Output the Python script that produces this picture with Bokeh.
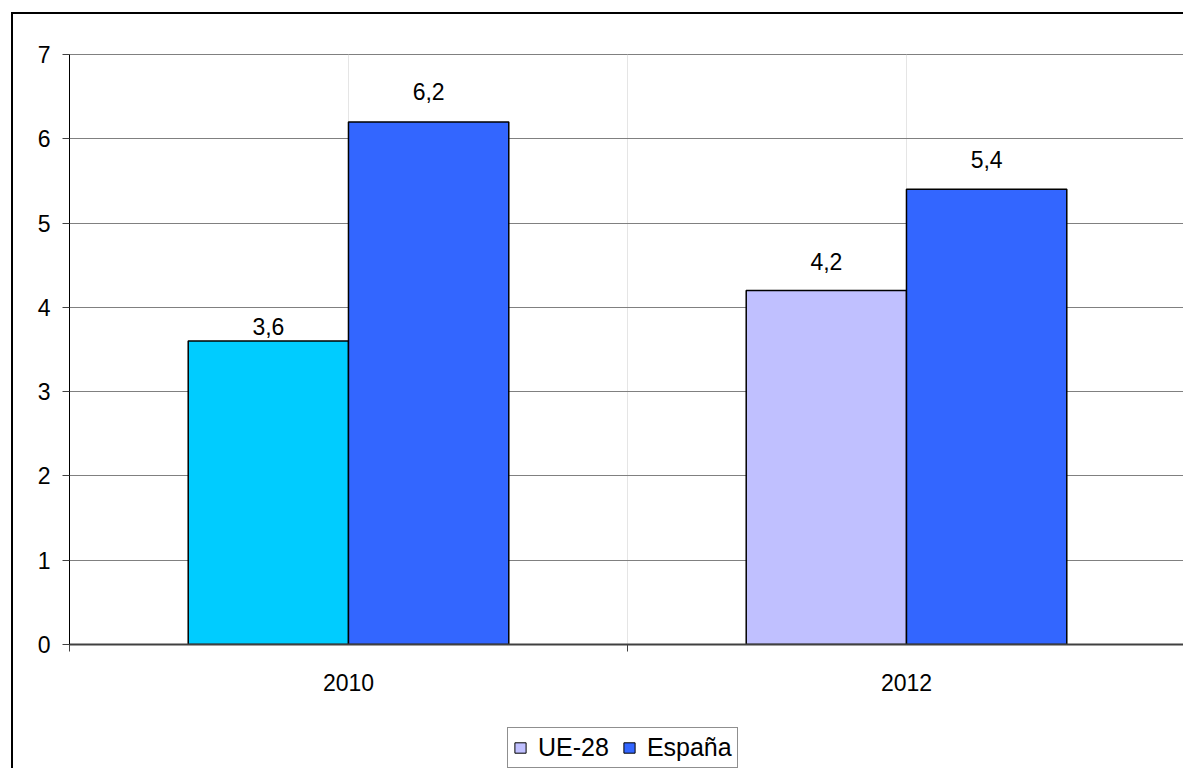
from bokeh.plotting import figure
from bokeh.layouts import column
from bokeh.models import (Range1d, LinearAxis, FixedTicker,
                          ColumnDataSource, Legend, LegendItem, Grid)
from bokeh.transform import dodge
from bokeh.core.properties import value
from bokeh.embed import file_html
from bokeh.resources import INLINE

# ---- data ----
categories = ["2010", "2012"]
ue28 = [3.6, 4.2]
espana = [6.2, 5.4]
y_ticks = [0, 1, 2, 3, 4, 5, 6, 7]

# ---- styles ----
ue28_colors = ["#00CCFF", "#C0C0FF"]
espana_color = "#3366FF"
ue28_label_gap = [-15, -29]
espana_label_gap = [-30, -30]
FONT = "Liberation Sans"
FS = "23px"
W = 1172

def fmt(v):
    return ("%.1f" % v).replace(".", ",")

# category slot centres (category i occupies [i, i+1])
centers = [i + 0.5 for i in range(len(categories))]
boundaries = list(range(len(categories) + 1))

source = ColumnDataSource(dict(
    xc=centers, ue28=ue28, espana=espana, ue_color=ue28_colors,
    ue_label=[fmt(v) for v in ue28], es_label=[fmt(v) for v in espana],
    ue_gap=ue28_label_gap, es_gap=espana_label_gap,
))

p = figure(x_range=Range1d(0, len(categories)),
           y_range=Range1d(0, 7),
           width=W, height=690,
           output_backend="svg", toolbar_location=None,
           x_axis_location=None, y_axis_location=None,
           min_border_left=56, min_border_right=0, min_border_top=40, min_border_bottom=60)
p.styles = {"border-left": "2px solid #000", "border-top": "2px solid #000"}
p.outline_line_color = "#808080"
p.outline_line_width = 1
p.background_fill_color = "white"
p.border_fill_color = "white"

# y axis
y_axis = LinearAxis(ticker=FixedTicker(ticks=y_ticks),
                    axis_line_color="#000000", axis_line_width=1,
                    major_tick_line_color="#404040", major_tick_out=7, major_tick_in=0,
                    minor_tick_line_color=None,
                    major_label_text_font=FONT, major_label_text_font_size=FS,
                    major_label_text_color="black", major_label_standoff=12)
p.add_layout(y_axis, "left")
p.add_layout(Grid(dimension=1, ticker=y_axis.ticker, grid_line_color="#808080",
                  grid_line_width=1))

# x axis: boundary ticks
tick_axis = LinearAxis(ticker=FixedTicker(ticks=boundaries),
                       axis_line_color="#404040", axis_line_width=2,
                       major_tick_line_color="#404040", major_tick_out=7, major_tick_in=0,
                       minor_tick_line_color=None,
                       major_label_text_font_size="1px", major_label_text_color=None,
                       major_label_standoff=0)
p.add_layout(tick_axis, "below")
label_axis = LinearAxis(ticker=FixedTicker(ticks=centers),
                        major_label_overrides={c: lab for c, lab in zip(centers, categories)},
                        axis_line_color=None, major_tick_line_color=None,
                        minor_tick_line_color=None,
                        major_label_text_font=FONT, major_label_text_font_size=FS,
                        major_label_text_color="black", major_label_standoff=16)
p.add_layout(label_axis, "below")

# bars
off = 0.1436
bw = 0.2873
r1 = p.vbar(x=dodge("xc", -off), top="ue28", width=bw, source=source,
            fill_color="ue_color", line_color="black", line_width=1.5)
r2 = p.vbar(x=dodge("xc", off), top="espana", width=bw, source=source,
            fill_color=espana_color, line_color="black", line_width=1.5)

p.text(x=dodge("xc", -off), y="ue28", text="ue_label", source=source,
       y_offset="ue_gap", text_align="center", text_baseline="alphabetic",
       text_font=value(FONT), text_font_size=FS, text_color="black")
p.text(x=dodge("xc", off), y="espana", text="es_label", source=source,
       y_offset="es_gap", text_align="center", text_baseline="alphabetic",
       text_font=value(FONT), text_font_size=FS, text_color="black")

# legend strip (own canvas so the legend is not clipped by the chart frame);
# its renderers are hidden, the legend draws their swatches only
q = figure(x_range=Range1d(100, 200), y_range=Range1d(-200, -100),
           width=W, height=66, output_backend="svg", toolbar_location=None,
           x_axis_location=None, y_axis_location=None,
           min_border_left=0, min_border_right=0, min_border_top=0, min_border_bottom=0)
q.styles = {"border-left": "2px solid #000"}
q.outline_line_color = None
q.grid.visible = False
q.background_fill_color = "white"
q.border_fill_color = "white"
lr1 = q.vbar(x=dodge("xc", -off), top="ue28", width=bw, source=source,
             fill_color="ue_color", line_color="black", line_width=1, visible=False)
lr2 = q.vbar(x=dodge("xc", off), top="espana", width=bw, source=source,
             fill_color=espana_color, line_color="black", line_width=1, visible=False)

legend = Legend(items=[LegendItem(label="UE-28", renderers=[lr1], index=1),
                       LegendItem(label="España", renderers=[lr2])],
                orientation="horizontal", location=(438, 0),
                border_line_color="#202020", border_line_width=1,
                label_text_font=FONT, label_text_font_size="25px", label_text_color="black",
                glyph_width=14, glyph_height=13, label_standoff=11, spacing=13,
                padding=5, margin=0, background_fill_alpha=1,
                inactive_fill_alpha=0)
q.add_layout(legend, "center")

layout = column(p, q, spacing=0, styles={"padding-left": "11px", "padding-top": "12px"})

open("out.html", "w").write(file_html(layout, INLINE))
